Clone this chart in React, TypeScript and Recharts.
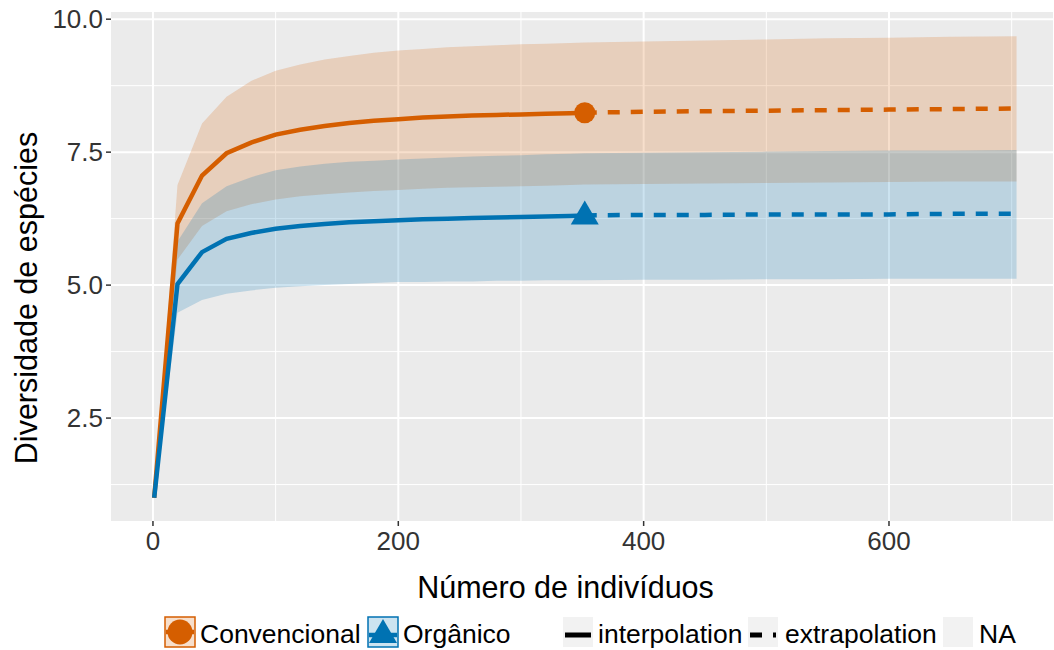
import {
  Area,
  Line,
  XAxis,
  YAxis,
  CartesianGrid,
  ComposedChart,
} from "recharts";

// iNEXT style rarefaction / extrapolation of species diversity
const sampleSizes = [
  1, 20, 40, 60, 80, 100, 120, 140, 160, 180, 200, 220, 240, 260, 280, 300,
  320, 340, 352, 400, 450, 500, 550, 600, 650, 704,
];
const observedSize = 352;

const convMean = [
  1.0, 6.16, 7.06, 7.48, 7.68, 7.83, 7.92, 7.99, 8.05, 8.09, 8.12, 8.15, 8.17,
  8.19, 8.2, 8.21, 8.22, 8.23, 8.24, 8.26, 8.27, 8.28, 8.29, 8.3, 8.31, 8.32,
];
const convLower = [
  1.0, 5.48, 6.11, 6.39, 6.52, 6.61, 6.67, 6.71, 6.74, 6.77, 6.79, 6.81, 6.83,
  6.84, 6.85, 6.86, 6.87, 6.88, 6.89, 6.9, 6.91, 6.92, 6.93, 6.94, 6.95, 6.95,
];
const convUpper = [
  1.0, 6.88, 8.04, 8.54, 8.84, 9.03, 9.15, 9.24, 9.31, 9.37, 9.41, 9.44, 9.47,
  9.49, 9.51, 9.53, 9.54, 9.55, 9.56, 9.58, 9.6, 9.62, 9.64, 9.65, 9.67, 9.68,
];

const orgMean = [
  1.0, 5.02, 5.62, 5.87, 5.98, 6.06, 6.11, 6.15, 6.18, 6.2, 6.22, 6.24, 6.25,
  6.26, 6.27, 6.28, 6.29, 6.3, 6.31, 6.32, 6.32, 6.33, 6.33, 6.33, 6.34, 6.34,
];
const orgLower = [
  1.0, 4.48, 4.72, 4.84, 4.9, 4.95, 4.98, 5.0, 5.02, 5.04, 5.06, 5.06, 5.07,
  5.07, 5.08, 5.08, 5.09, 5.09, 5.09, 5.1, 5.1, 5.11, 5.11, 5.12, 5.12, 5.12,
];
const orgUpper = [
  1.0, 5.82, 6.54, 6.86, 7.03, 7.16, 7.23, 7.28, 7.32, 7.34, 7.36, 7.38, 7.4,
  7.42, 7.43, 7.44, 7.46, 7.47, 7.48, 7.49, 7.5, 7.51, 7.52, 7.53, 7.53, 7.54,
];

const xTicks = [0, 200, 400, 600];
const xMinor = [100, 300, 500, 700];
const yTicks = [2.5, 5.0, 7.5, 10.0];
const yMinor = [1.25, 3.75, 6.25, 8.75];

const ORANGE = "#D55E00";
const BLUE = "#0072B2";
const FONT = "'Liberation Sans', Arial, Helvetica, sans-serif";

const data = sampleSizes.map((m, i) => ({
  m,
  convInterp: m <= observedSize ? convMean[i] : null,
  convExtrap: m >= observedSize ? convMean[i] : null,
  convBand: [convLower[i], convUpper[i]],
  orgInterp: m <= observedSize ? orgMean[i] : null,
  orgExtrap: m >= observedSize ? orgMean[i] : null,
  orgBand: [orgLower[i], orgUpper[i]],
}));

const circleDot = (p: any) =>
  p.payload.m === observedSize ? (
    <circle key={`c-${p.index}`} cx={p.cx} cy={p.cy} r={10.5} fill={ORANGE} />
  ) : (
    <g key={`c-${p.index}`} />
  );

const triangleDot = (p: any) =>
  p.payload.m === observedSize ? (
    <polygon
      key={`t-${p.index}`}
      points={`${p.cx},${p.cy - 15} ${p.cx - 14},${p.cy + 9} ${p.cx + 14},${p.cy + 9}`}
      fill={BLUE}
    />
  ) : (
    <g key={`t-${p.index}`} />
  );

function Legend() {
  return (
    <g fontFamily={FONT} fontSize={26.5} fill="#000">
      <rect x={165} y={617} width={30} height={30} fill={ORANGE} fillOpacity={0.2} stroke={ORANGE} strokeWidth={1.5} />
      <line x1={166} x2={194} y1={632} y2={632} stroke={ORANGE} strokeWidth={4.5} />
      <circle cx={180} cy={632} r={12.5} fill={ORANGE} />
      <text x={200} y={643}>Convencional</text>
      <rect x={368} y={617} width={30} height={30} fill={BLUE} fillOpacity={0.2} stroke={BLUE} strokeWidth={1.5} />
      <line x1={369} x2={397} y1={635} y2={635} stroke={BLUE} strokeWidth={4.5} />
      <polygon points="383,619 369,643 397,643" fill={BLUE} />
      <text x={403} y={643}>Orgânico</text>

      <rect x={563} y={617} width={30} height={30} fill="#F2F2F2" />
      <line x1={565} x2={591} y1={635} y2={635} stroke="#000" strokeWidth={5} />
      <text x={598} y={643}>interpolation</text>
      <rect x={748} y={617} width={30} height={30} fill="#F2F2F2" />
      <line x1={750} x2={776} y1={635} y2={635} stroke="#000" strokeWidth={5} strokeDasharray="12 11" />
      <text x={785} y={643}>extrapolation</text>
      <rect x={943} y={617} width={30} height={30} fill="#F2F2F2" />
      <text x={979} y={643}>NA</text>
    </g>
  );
}

export default function App() {
  const tickStyle = { fontSize: 26, fill: "#333", fontFamily: FONT };
  return (
    <div style={{ position: "absolute", left: 0, top: 0, width: 1054, height: 650, background: "#fff" }}>
      <ComposedChart
        width={1054}
        height={650}
        data={data}
        margin={{ top: 12, right: 1, left: 0, bottom: 49 }}
      >
        <CartesianGrid
          fill="#EBEBEB"
          stroke="#fff"
          strokeWidth={1}
          horizontalValues={yMinor}
          verticalValues={xMinor}
        />
        <CartesianGrid
          stroke="#fff"
          strokeWidth={2}
          horizontalValues={yTicks}
          verticalValues={xTicks}
        />
        <XAxis
          dataKey="m"
          type="number"
          domain={[-34.2, 733.7]}
          ticks={xTicks}
          allowDataOverflow
          axisLine={false}
          tickSize={5}
          tickMargin={6}
          tickLine={{ stroke: "#333", strokeWidth: 1.5 }}
          tick={tickStyle}
          height={80}
        />
        <YAxis
          type="number"
          domain={[0.565, 10.135]}
          ticks={yTicks}
          allowDataOverflow
          axisLine={false}
          tickSize={5}
          tickMargin={3}
          tickLine={{ stroke: "#333", strokeWidth: 1.5 }}
          tick={tickStyle}
          tickFormatter={(v: number) => v.toFixed(1)}
          width={111}
        />
        <Area
          type="linear"
          dataKey="convBand"
          stroke="none"
          fill={ORANGE}
          fillOpacity={0.2}
          isAnimationActive={false}
        />
        <Area
          type="linear"
          dataKey="orgBand"
          stroke="none"
          fill={BLUE}
          fillOpacity={0.2}
          isAnimationActive={false}
        />
        <Line
          type="linear"
          dataKey="convExtrap"
          stroke={ORANGE}
          strokeWidth={4.5}
          strokeDasharray="12 11"
          dot={false}
          activeDot={false}
          isAnimationActive={false}
        />
        <Line
          type="linear"
          dataKey="orgExtrap"
          stroke={BLUE}
          strokeWidth={4.5}
          strokeDasharray="12 11"
          dot={false}
          activeDot={false}
          isAnimationActive={false}
        />
        <Line
          type="linear"
          dataKey="convInterp"
          stroke={ORANGE}
          strokeWidth={4.5}
          dot={circleDot}
          activeDot={false}
          isAnimationActive={false}
        />
        <Line
          type="linear"
          dataKey="orgInterp"
          stroke={BLUE}
          strokeWidth={4.5}
          dot={triangleDot}
          activeDot={false}
          isAnimationActive={false}
        />
      </ComposedChart>
      <svg
        width={1054}
        height={650}
        style={{ position: "absolute", left: 0, top: 0, pointerEvents: "none" }}
      >
        <text x={565.5} y={598} textAnchor="middle" fontFamily={FONT} fontSize={30.5} fill="#000">
          Número de indivíduos
        </text>
        <text
          x={0}
          y={0}
          transform="translate(37,298) rotate(-90)"
          textAnchor="middle"
          fontFamily={FONT}
          fontSize={30.5}
          fill="#000"
        >
          Diversidade de espécies
        </text>
        <Legend />
      </svg>
    </div>
  );
}
